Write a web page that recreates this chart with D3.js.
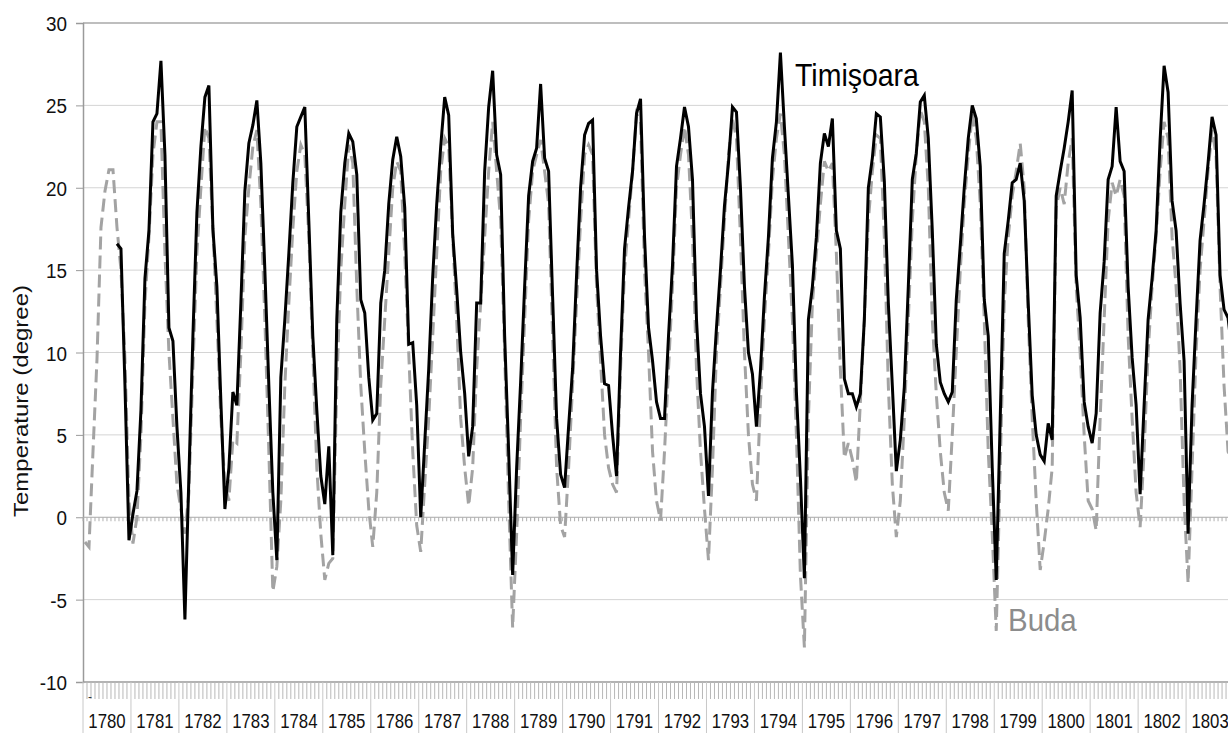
<!DOCTYPE html>
<html>
<head>
<meta charset="utf-8">
<script src="https://cdn.jsdelivr.net/npm/d3@7"></script>
<style>
  body { margin: 0; background: #fff; }
  svg { display: block; font-family: Arial, "Liberation Sans", sans-serif; }
</style>
</head>
<body>
<svg id="chart" width="1228" height="733"></svg>
<script>
// category axis: one label per year, 12 monthly values per year
const years = d3.range(1780, 1804);
const yTicks = [-10, -5, 0, 5, 10, 15, 20, 25, 30];

// monthly mean temperature, Jan..Dec
const timisoara = [
  null, null, null, null, null, null, null, null, 16.6, 16.3, 8.0, -1.4, // 1780
  0.2, 1.6, 6.5, 14.5, 17.4, 24.0, 24.5, 27.7, 22.0, 11.5, 10.7, 5.5,     // 1781
  1.5, -6.2, 2.5, 11.0, 18.5, 22.5, 25.5, 26.2, 17.5, 14.0, 7.0, 0.5,     // 1782
  3.0, 7.6, 6.8, 13.0, 19.8, 22.7, 23.8, 25.3, 21.5, 15.0, 8.0, 1.5,      // 1783
  -2.6, 8.5, 12.0, 16.0, 20.3, 23.7, 24.3, 24.9, 18.0, 11.0, 6.5, 2.5,    // 1784
  0.8, 4.3, -2.3, 12.0, 18.5, 21.5, 23.3, 22.8, 20.8, 13.2, 12.4, 8.5,    // 1785
  5.9, 6.3, 13.0, 15.0, 19.0, 21.7, 23.1, 21.9, 18.8, 10.5, 10.6, 6.8,    // 1786
  0.0, 4.5, 9.0, 14.6, 19.0, 22.5, 25.5, 24.4, 17.2, 13.8, 10.0, 7.5,     // 1787
  3.7, 5.5, 13.0, 13.0, 21.0, 24.9, 27.1, 22.0, 20.8, 11.0, 4.0, -3.5,    // 1788
  3.0, 8.2, 14.0, 19.5, 21.6, 22.4, 26.3, 21.8, 21.0, 13.4, 6.0, 2.6,     // 1789
  1.8, 5.5, 9.0, 14.7, 20.0, 23.2, 23.9, 24.1, 15.0, 11.0, 8.1, 8.0,      // 1790
  5.0, 2.5, 10.0, 16.3, 18.8, 21.0, 24.5, 25.4, 17.0, 11.5, 9.5, 7.0,     // 1791
  6.0, 6.0, 11.0, 15.3, 21.3, 23.0, 24.9, 23.7, 20.5, 12.0, 7.5, 5.5,     // 1792
  1.3, 7.6, 11.5, 15.0, 18.9, 21.5, 24.9, 24.6, 20.0, 14.0, 10.0, 8.7,    // 1793
  5.5, 8.9, 13.4, 17.0, 21.8, 24.0, 28.2, 23.7, 19.5, 15.3, 7.6, 2.4,     // 1794
  -3.7, 12.0, 14.0, 17.0, 21.5, 23.3, 22.5, 24.2, 17.4, 16.3, 8.4, 7.5,   // 1795
  7.5, 6.7, 7.5, 12.0, 20.0, 21.8, 24.5, 24.3, 20.4, 13.0, 8.0, 2.8,      // 1796
  4.7, 7.9, 14.0, 20.5, 22.1, 25.2, 25.6, 23.0, 17.4, 10.5, 8.2, 7.5,     // 1797
  7.0, 7.6, 13.2, 16.5, 20.0, 23.0, 25.0, 24.2, 21.3, 13.2, 11.0, 3.0,    // 1798
  -3.8, 6.0, 16.0, 18.0, 20.3, 20.5, 21.5, 19.2, 13.0, 7.4, 5.0, 3.8,     // 1799
  3.4, 5.7, 4.7, 19.5, 21.0, 22.4, 24.0, 25.9, 14.7, 12.1, 7.0, 5.5,      // 1800
  4.5, 6.3, 12.4, 15.5, 20.5, 21.3, 24.9, 21.6, 21.0, 14.0, 9.7, 6.8,     // 1801
  1.4, 6.8, 12.0, 14.5, 17.4, 22.9, 27.4, 25.8, 19.2, 17.4, 13.0, 9.5,    // 1802
  -1.0, 6.8, 12.0, 16.8, 19.0, 21.5, 24.3, 23.2, 14.7, 12.6, 12.1, 10.0   // 1803
];

const buda = [
  -1.5, -1.8, 4.0, 9.6, 17.6, 19.8, 21.1, 21.1, 17.6, 15.0, 9.6, 1.0,     // 1780
  -1.6, 0.0, 5.0, 13.0, 17.0, 22.0, 24.0, 24.0, 16.0, 10.0, 6.0, 2.0,     // 1781
  0.5, -1.0, 1.5, 9.0, 16.0, 20.0, 23.7, 23.0, 17.5, 12.0, 6.0, 2.0,      // 1782
  1.0, 4.7, 4.5, 10.0, 17.0, 20.0, 22.5, 23.5, 19.0, 12.0, 4.0, -4.5,     // 1783
  -3.0, 1.0, 8.0, 13.0, 17.5, 21.0, 22.6, 22.0, 17.0, 10.0, 3.0, -1.0,    // 1784
  -3.8, -2.8, -2.5, 8.0, 15.0, 19.0, 22.6, 21.5, 14.0, 8.0, 4.0, 0.5,     // 1785
  -1.8, 1.5, 8.0, 12.0, 16.0, 20.0, 21.6, 21.0, 16.0, 10.0, 4.0, -0.5,    // 1786
  -2.1, 2.0, 6.0, 11.0, 16.0, 21.0, 23.0, 22.5, 17.0, 12.0, 6.0, 3.0,     // 1787
  0.7, 3.0, 9.0, 13.0, 17.0, 21.0, 24.0, 21.0, 18.0, 10.0, 1.0, -6.7,     // 1788
  -1.0, 6.0, 12.0, 18.0, 21.0, 22.0, 22.9, 21.0, 19.0, 11.0, 3.0, -0.5,   // 1789
  -1.2, 3.0, 8.0, 13.0, 18.0, 22.0, 22.6, 22.0, 14.0, 9.5, 5.0, 3.0,      // 1790
  2.0, 1.5, 9.0, 15.0, 18.0, 21.0, 24.5, 24.0, 15.0, 10.0, 4.0, 1.0,      // 1791
  -0.2, 4.0, 9.0, 14.0, 20.0, 22.0, 23.7, 22.0, 17.0, 9.0, 4.0, 0.5,      // 1792
  -2.6, 3.0, 10.0, 14.0, 18.0, 22.0, 24.2, 23.0, 17.0, 10.0, 5.0, 2.0,    // 1793
  1.0, 7.0, 12.0, 16.0, 20.5, 23.0, 24.5, 22.0, 17.0, 12.0, 5.0, -3.5,    // 1794
  -7.9, 6.0, 13.0, 16.0, 19.0, 21.6, 21.0, 21.5, 16.0, 9.0, 3.6, 4.5,     // 1795
  3.5, 2.1, 7.0, 12.0, 18.0, 21.0, 23.2, 23.0, 17.0, 8.0, 2.0, -1.2,      // 1796
  1.0, 6.0, 12.0, 18.0, 22.0, 24.7, 24.0, 20.0, 12.0, 7.5, 4.0, 1.5,      // 1797
  0.4, 5.0, 10.0, 15.0, 19.0, 22.0, 24.5, 23.0, 19.0, 12.0, 4.0, -1.0,    // 1798
  -6.9, 3.0, 13.0, 17.0, 19.5, 21.0, 22.7, 20.0, 12.0, 6.0, 1.0, -3.2,    // 1799
  -1.5, 0.5, 3.0, 18.8, 20.0, 19.0, 21.5, 23.0, 14.0, 10.0, 5.0, 1.0,     // 1800
  0.5, -0.8, 6.0, 12.0, 18.0, 20.3, 19.5, 20.5, 19.5, 11.0, 6.0, 1.5,     // 1801
  -0.6, 4.0, 10.0, 14.0, 17.0, 21.0, 24.0, 23.0, 17.0, 14.0, 9.0, 1.0,    // 1802
  -4.0, 3.0, 10.0, 15.0, 18.0, 21.0, 23.5, 22.0, 14.0, 8.0, 4.0, 3.0      // 1803
];

const svg = d3.select("#chart");
const W = 1228, H = 733;

const plotLeft = 83, plotTop = 23, plotBottom = 682;
const yearWidth = 47.96;
const nMonths = years.length * 12;

const x = d3.scaleLinear()
  .domain([0, nMonths])
  .range([plotLeft, plotLeft + yearWidth * years.length]);

const y = d3.scaleLinear()
  .domain([-10, 30])
  .range([plotBottom, plotTop]);

svg.append("rect")
  .attr("width", W).attr("height", H)
  .style("fill", "#fff");

// horizontal gridlines
svg.append("g")
  .selectAll("line")
  .data(yTicks.filter(d => d !== -10 && d !== 0 && d !== 30))
  .join("line")
  .attr("x1", plotLeft).attr("x2", W)
  .attr("y1", d => y(d)).attr("y2", d => y(d))
  .style("stroke", "#d4d4d4")
  .style("stroke-width", 1);

// top border of the plot at 30
svg.append("line")
  .attr("x1", plotLeft).attr("x2", W)
  .attr("y1", y(30)).attr("y2", y(30))
  .style("stroke", "#a8a8a8")
  .style("stroke-width", 1.5);

// left value axis (plain hyphen for negatives, as in the original)
const yAxis = d3.axisLeft(y)
  .tickValues(yTicks)
  .tickSize(7)
  .tickPadding(9)
  .tickFormat(d => String(d));

const yAxisG = svg.append("g")
  .attr("transform", `translate(${plotLeft},0)`)
  .call(yAxis);

yAxisG.select(".domain").style("stroke", "#9a9a9a").style("stroke-width", 1.5);
yAxisG.selectAll(".tick line").style("stroke", "#9a9a9a");
yAxisG.selectAll(".tick text")
  .style("font-size", "21px")
  .style("fill", "#111")
  .attr("dy", "0.36em")
  .attr("transform", function () {
    const tx = +d3.select(this).attr("x");
    return `translate(${tx},0) scale(0.9,1) translate(${-tx},0)`;
  });

// zero line with monthly tick marks
const monthEdges = d3.range(0, nMonths + 1);

svg.append("line")
  .attr("x1", plotLeft).attr("x2", W)
  .attr("y1", y(0)).attr("y2", y(0))
  .style("stroke", "#a8a8a8")
  .style("stroke-width", 1);

svg.append("g")
  .selectAll("line")
  .data(monthEdges)
  .join("line")
  .attr("x1", d => x(d)).attr("x2", d => x(d))
  .attr("y1", y(0)).attr("y2", y(0) + 4)
  .style("stroke", "#b0b0b0")
  .style("stroke-width", 1);

// bottom category axis at -10
svg.append("line")
  .attr("x1", plotLeft).attr("x2", W)
  .attr("y1", y(-10)).attr("y2", y(-10))
  .style("stroke", "#9a9a9a")
  .style("stroke-width", 1.5);

svg.append("g")
  .selectAll("line")
  .data(monthEdges)
  .join("line")
  .attr("x1", d => x(d)).attr("x2", d => x(d))
  .attr("y1", y(-10)).attr("y2", d => d % 12 === 0 ? H : y(-10) + 17)
  .style("stroke", d => d % 12 === 0 ? "#c8c8c8" : "#b8b8b8")
  .style("stroke-width", 1);

svg.append("g")
  .selectAll("text")
  .data(years)
  .join("text")
  .attr("transform", (d, i) => `translate(${x(i * 12 + 6)},728) scale(0.84,1)`)
  .attr("text-anchor", "middle")
  .style("font-size", "20px")
  .style("fill", "#111")
  .text(d => d);

// stray mark under the first category
svg.append("text")
  .attr("x", 88).attr("y", 701)
  .style("font-size", "12px")
  .style("fill", "#333")
  .text("-");

// axis title
svg.append("text")
  .attr("transform", "translate(28,401) rotate(-90) scale(1,0.82)")
  .attr("text-anchor", "middle")
  .style("font-size", "24px")
  .style("fill", "#111")
  .text("Temperature (degree)");

// series
const line = d3.line()
  .defined(d => d != null)
  .x((d, i) => x(i + 0.5))
  .y(d => y(d));

svg.append("path")
  .datum(buda)
  .attr("d", line)
  .style("fill", "none")
  .style("stroke", "#a3a3a3")
  .style("stroke-width", 3)
  .style("stroke-dasharray", "13,6");

svg.append("path")
  .datum(timisoara)
  .attr("d", line)
  .style("fill", "none")
  .style("stroke", "#000")
  .style("stroke-width", 3)
  .style("stroke-linejoin", "miter");

// series labels
svg.append("text")
  .attr("transform", "translate(795,86) scale(0.89,1)")
  .style("font-size", "32px")
  .style("fill", "#000")
  .text("Timişoara");

svg.append("text")
  .attr("transform", "translate(1008,631) scale(0.95,1)")
  .style("font-size", "31px")
  .style("fill", "#8c8c8c")
  .text("Buda");
</script>
</body>
</html>
